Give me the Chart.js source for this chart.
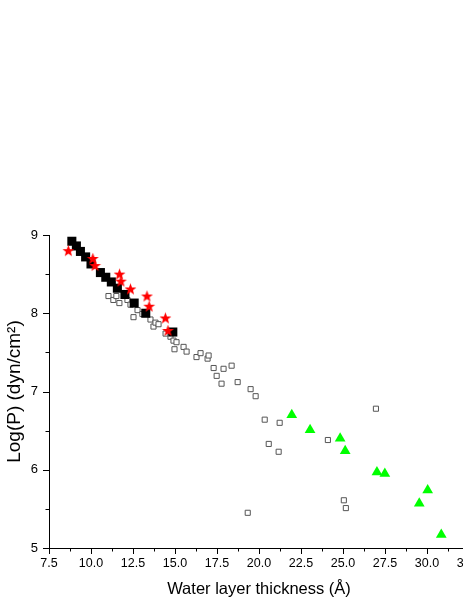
<!DOCTYPE html>
<html>
<head>
<meta charset="utf-8">
<script src="https://cdn.jsdelivr.net/npm/chart.js@4.4.0/dist/chart.umd.min.js"></script>
<style>
html,body{margin:0;padding:0;background:#fff;overflow:hidden;}
#wrap{width:489px;height:599px;}
</style>
</head>
<body>
<div id="wrap"><canvas id="c" width="489" height="599"></canvas></div>
<script>
// ---- data ----
const blackX = [8.86, 9.13, 9.37, 9.68, 10.00, 10.56, 10.88, 11.21, 11.57, 12.02, 12.57, 13.26, 14.87];
const blackY = [8.92, 8.86, 8.79, 8.72, 8.63, 8.52, 8.46, 8.40, 8.32, 8.24, 8.13, 8.00, 7.76];

const starX = [8.65, 10.11, 10.24, 11.70, 11.78, 12.35, 13.33, 13.46, 14.43, 14.58];
const starY = [8.80, 8.70, 8.61, 8.50, 8.41, 8.31, 8.22, 8.09, 7.94, 7.78];

const triX = [21.95, 23.04, 24.83, 25.13, 27.02, 27.49, 30.04, 29.54, 30.85];
const triY = [6.70, 6.51, 6.40, 6.24, 5.97, 5.95, 5.74, 5.57, 5.17];

const openX = [11.04, 11.33, 11.51, 11.69, 12.17, 12.35, 12.53, 12.77, 13.06, 13.54, 13.72, 13.84, 14.02,
               14.44, 14.73, 14.91, 15.09, 14.97, 15.51, 15.69, 16.28, 16.52, 16.94, 17.00, 17.30, 17.89,
               18.37, 17.48, 17.77, 18.73, 19.50, 19.80, 20.34, 21.23, 20.58, 21.17, 24.10, 26.96, 25.05,
               25.17, 19.33];
const openY = [8.22, 8.17, 8.22, 8.13, 8.17, 8.11, 7.95, 8.04, 7.99, 7.92, 7.83, 7.88, 7.86,
               7.74, 7.70, 7.65, 7.63, 7.54, 7.57, 7.51, 7.44, 7.49, 7.42, 7.46, 7.30, 7.29,
               7.33, 7.20, 7.10, 7.12, 7.03, 6.94, 6.64, 6.60, 6.33, 6.23, 6.38, 6.78, 5.61,
               5.51, 5.45];

const xTickMin = 7.5, xTickMax = 32.5, xStep = 1.25, xMajor = 2.5;
const yTickMin = 5, yTickMax = 9, yStep = 0.5, yMajor = 1;
const xTitle = 'Water layer thickness (Å)';
const yTitle = 'Log(P) (dyn/cm²)';

function pts(xs, ys){ return xs.map((x,i)=>({x:x, y:ys[i]})); }

// filled 5-point star image for the red series
function makeStar(){
  const s = 13, c = document.createElement('canvas');
  c.width = s; c.height = s;
  const g = c.getContext('2d');
  const cx = s/2, cy = s/2 + 0.5, R = 6.2, r = 2.6;
  g.beginPath();
  for (let i = 0; i < 10; i++){
    const a = -Math.PI/2 + i*Math.PI/5;
    const rr = i % 2 ? r : R;
    g.lineTo(cx + rr*Math.cos(a), cy + rr*Math.sin(a));
  }
  g.closePath();
  g.fillStyle = '#ff0000';
  g.fill();
  return c;
}
const starImg = makeStar();

const FONT = "'Liberation Sans', Arial, sans-serif";

const tickPlugin = {
  id: 'minorTicks',
  afterDraw(chart){
    const ctx = chart.ctx;
    ctx.save();
    ctx.strokeStyle = '#000';
    ctx.lineWidth = 1;
    const xs = chart.scales.x, ys = chart.scales.y;
    xs.ticks.forEach(t => {
      const major = Math.abs(((t.value - xTickMin) / xMajor) - Math.round((t.value - xTickMin) / xMajor)) < 1e-6;
      const p = Math.round(xs.getPixelForValue(t.value)) + 0.5;
      const b = Math.round(chart.chartArea.bottom);
      ctx.beginPath(); ctx.moveTo(p, b); ctx.lineTo(p, b + (major ? 6 : 3.5)); ctx.stroke();
    });
    ys.ticks.forEach(t => {
      const major = Math.abs(((t.value - yTickMin) / yMajor) - Math.round((t.value - yTickMin) / yMajor)) < 1e-6;
      const p = Math.round(ys.getPixelForValue(t.value)) + 0.5;
      const l = Math.round(chart.chartArea.left);
      ctx.beginPath(); ctx.moveTo(l, p); ctx.lineTo(l - (major ? 6 : 3.5), p); ctx.stroke();
    });
    ctx.restore();
  }
};

new Chart(document.getElementById('c'), {
  type: 'scatter',
  data: {
    datasets: [
      { label: 'stars', data: pts(starX, starY), pointStyle: starImg, pointRadius: 6, clip: false },
      { label: 'triangles', data: pts(triX, triY), pointStyle: 'triangle', pointRadius: 6.2,
        backgroundColor: '#00ff00', borderColor: '#00ff00', borderWidth: 0, clip: false },
      { label: 'black', data: pts(blackX, blackY), pointStyle: 'rect', pointRadius: 6.4,
        backgroundColor: '#000000', borderColor: '#000000', borderWidth: 0, clip: false },
      { label: 'open', data: pts(openX, openY), pointStyle: 'rect', pointRadius: 3.6,
        backgroundColor: '#ffffff', borderColor: '#555555', borderWidth: 1, clip: false }
    ]
  },
  options: {
    responsive: false,
    animation: false,
    devicePixelRatio: 1,
    layout: { padding: { top: 235, right: 20, bottom: 0, left: 0 } },
    plugins: { legend: { display: false }, tooltip: { enabled: false } },
    elements: { point: { hoverRadius: 0 } },
    scales: {
      x: {
        type: 'linear', min: xTickMin, max: xTickMax,
        afterFit(s){ s.height = 51; },
        ticks: {
          stepSize: xStep, autoSkip: false, maxRotation: 0, padding: 2,
          color: '#000', font: { family: FONT, size: 12.5 },
          callback(v){
            const k = (v - xTickMin) / xMajor;
            return Math.abs(k - Math.round(k)) < 1e-6 ? v.toFixed(1) : '';
          }
        },
        grid: { display: true, drawOnChartArea: false, tickLength: 6, tickColor: 'rgba(0,0,0,0)' },
        border: { display: true, color: '#000', width: 1 },
        title: { display: true, text: xTitle, color: '#000', font: { family: FONT, size: 16.5 }, padding: { top: 0, bottom: 0 } }
      },
      y: {
        type: 'linear', min: yTickMin, max: yTickMax,
        afterFit(s){ s.width = 49; },
        ticks: {
          stepSize: yStep, autoSkip: false, padding: 5,
          color: '#000', font: { family: FONT, size: 13 },
          callback(v){
            const k = (v - yTickMin) / yMajor;
            return Math.abs(k - Math.round(k)) < 1e-6 ? String(Math.round(v)) : '';
          }
        },
        grid: { display: true, drawOnChartArea: false, tickLength: 6, tickColor: 'rgba(0,0,0,0)' },
        border: { display: true, color: '#000', width: 1 },
        title: { display: true, text: yTitle, color: '#000', font: { family: FONT, size: 19 }, padding: { top: 3, bottom: 0 } }
      }
    }
  },
  plugins: [tickPlugin]
});
</script>
</body>
</html>
